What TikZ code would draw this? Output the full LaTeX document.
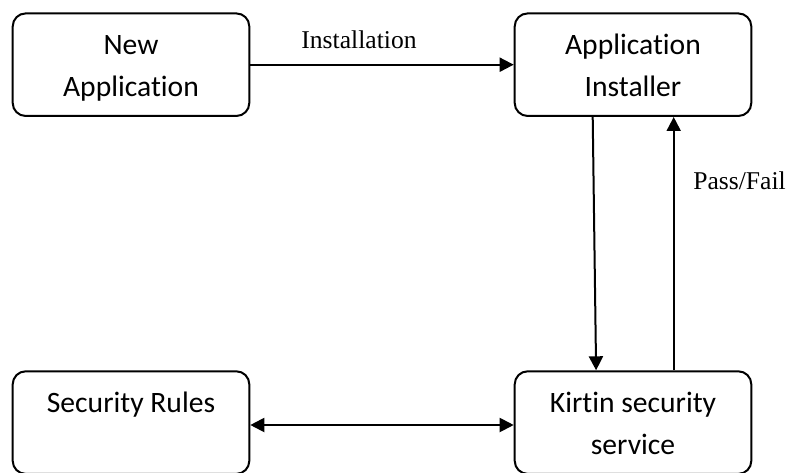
\documentclass[tikz,border=0pt]{standalone}
\usepackage{fontspec}
\setmainfont{Liberation Serif}
\newfontfamily\boxfont{Carlito}[Ligatures=CommonOff]
\usetikzlibrary{arrows.meta, calc}

\tikzset{
  block/.style={draw, line width=1pt, rounded corners=6.5pt, minimum width=118.3pt, minimum height=51.3pt, inner sep=0pt, align=center, text height=32pt, text depth=0pt, font=\boxfont\fontsize{14.8}{21}\selectfont},
  arr/.style={line width=1pt, -{Triangle[length=7pt,width=7pt]}},
  lbl/.style={anchor=base, font=\fontsize{12.8}{15}\selectfont}
}

\begin{document}
\begin{tikzpicture}[x=0.5pt,y=0.5pt]
\clip (0,0) rectangle (791,472);

\node[block] (newapp) at (131,407.3) {New\\Application};
\node[block] (inst) at (633,407.3) {Application\\Installer};
\node[block] (rules) at (131,49.4) {Security Rules\\~};
\node[block] (kirtin) at (633,49.4) {Kirtin security\\service};

\draw[arr] (newapp) -- (inst);
\node[lbl] (instlbl) at (359,423) {Installation};

\draw[arr] ($(inst.south west)+(79,0)$) -- ($(kirtin.north west)+(82.4,0)$);
\draw[arr] ($(kirtin.north west)+(160,0)$) -- ($(inst.south west)+(160,0)$);
\node[lbl] (passlbl) at (739.5,282.7) {Pass/Fail};

\draw[arr, {Triangle[length=7pt,width=7pt]}-{Triangle[length=7pt,width=7pt]}] ([yshift=-1.2pt]rules.east) -- ([yshift=-1.2pt]kirtin.west);

\end{tikzpicture}
\end{document}
